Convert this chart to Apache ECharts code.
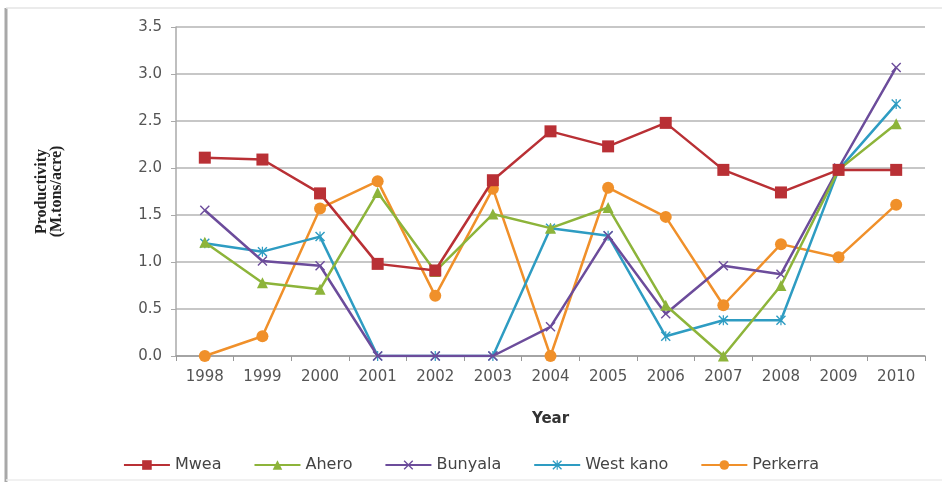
<!DOCTYPE html>
<html>
<head>
<meta charset="utf-8">
<script src="https://cdn.jsdelivr.net/npm/echarts@6/dist/echarts.min.js"></script>
<style>
  html, body { margin: 0; padding: 0; background: #ffffff; }
  #chart { width: 942px; height: 482px; }
</style>
</head>
<body>
<div id="chart"></div>
<script>
// Irrigation scheme productivity by year (M.tons/acre)
const years = ['1998','1999','2000','2001','2002','2003','2004','2005','2006','2007','2008','2009','2010'];
const mwea     = [2.11, 2.09, 1.73, 0.98, 0.91, 1.87, 2.39, 2.23, 2.48, 1.98, 1.74, 1.98, 1.98];
const ahero    = [1.21, 0.78, 0.71, 1.74, 0.90, 1.51, 1.36, 1.58, 0.54, 0.00, 0.75, 1.98, 2.47];
const bunyala  = [1.55, 1.01, 0.96, 0.00, 0.00, 0.00, 0.31, 1.28, 0.45, 0.96, 0.87, 2.00, 3.07];
const westKano = [1.20, 1.11, 1.27, 0.00, 0.00, 0.00, 1.36, 1.28, 0.21, 0.38, 0.38, 1.98, 2.68];
const perkerra = [0.00, 0.21, 1.57, 1.86, 0.64, 1.78, 0.00, 1.79, 1.48, 0.54, 1.19, 1.05, 1.61];

const seriesNames = ['Mwea', 'Ahero', 'Bunyala', 'West kano', 'Perkerra'];
const seriesData = [mwea, ahero, bunyala, westKano, perkerra];
const colors = ['#B93035', '#8DB43A', '#6C4C9B', '#2E9CC2', '#F0902A'];

// marker shapes: square, triangle, cross, asterisk, circle
const crossPath = 'path://M1,0L5,4L9,0L10,1L6,5L10,9L9,10L5,6L1,10L0,9L4,5L0,1Z';
const starPath = 'path://M1,0L5,4L9,0L10,1L6,5L10,9L9,10L5,6L1,10L0,9L4,5L0,1ZM4.4,0L5.6,0L5.6,10L4.4,10Z';
const symbols = ['rect', 'triangle', crossPath, starPath, 'circle'];
const symbolSizes = [12, 11, 10, 10, 12];

const chart = echarts.init(document.getElementById('chart'), null, { renderer: 'canvas' });

const axisFont = 'DejaVu Sans, Verdana, sans-serif';

chart.setOption({
  animation: false,
  backgroundColor: '#ffffff',
  color: colors,
  graphic: [
    { type: 'line', shape: { x1: 6, y1: 8, x2: 6, y2: 482 }, style: { stroke: '#a8a8a8', lineWidth: 3 } },
    { type: 'line', shape: { x1: 6, y1: 8, x2: 942, y2: 8 }, style: { stroke: '#e4e4e4', lineWidth: 1.5 } },
    { type: 'line', shape: { x1: 6, y1: 480, x2: 942, y2: 480 }, style: { stroke: '#ececec', lineWidth: 1.5 } }
  ],
  grid: { left: 176, top: 27, right: 17, bottom: 126, containLabel: false },
  legend: {
    top: 452,
    left: 'center',
    itemWidth: 46,
    itemHeight: 12,
    itemGap: 32,
    textStyle: { fontFamily: axisFont, fontSize: 16, color: '#444' },
    data: seriesNames
  },
  xAxis: {
    type: 'category',
    data: years,
    boundaryGap: true,
    name: 'Year',
    nameLocation: 'middle',
    nameGap: 56,
    nameTextStyle: { fontFamily: axisFont, fontWeight: 'bold', fontSize: 15, color: '#333' },
    axisLine: { lineStyle: { color: '#999', width: 1.5 } },
    axisTick: { show: true, alignWithLabel: false, length: 5, lineStyle: { color: '#999' } },
    axisLabel: { fontFamily: axisFont, fontSize: 15, color: '#555', margin: 14 }
  },
  yAxis: {
    type: 'value',
    min: 0,
    max: 3.5,
    interval: 0.5,
    name: 'Productivity\n(M.tons/acre)',
    nameLocation: 'middle',
    nameGap: 112,
    nameRotate: 90,
    nameTextStyle: { fontFamily: 'Liberation Serif, Times New Roman, serif', fontWeight: 'bold', fontSize: 16, color: '#222', lineHeight: 15 },
    axisLine: { show: true, lineStyle: { color: '#aaa', width: 1.5 } },
    axisTick: { show: true, length: 5, lineStyle: { color: '#aaa' } },
    axisLabel: { fontFamily: axisFont, fontSize: 15, color: '#555', margin: 14, formatter: v => v.toFixed(1) },
    splitLine: { lineStyle: { color: '#b4b4b4', width: 1.5 } }
  },
  series: seriesNames.map((name, i) => ({
    name,
    type: 'line',
    data: seriesData[i],
    symbol: symbols[i],
    symbolSize: symbolSizes[i],
    showAllSymbol: true,
    lineStyle: { width: 2.5, color: colors[i] },
    itemStyle: { color: colors[i], borderWidth: 0 },
    z: 10 - i
  }))
});
</script>
</body>
</html>
